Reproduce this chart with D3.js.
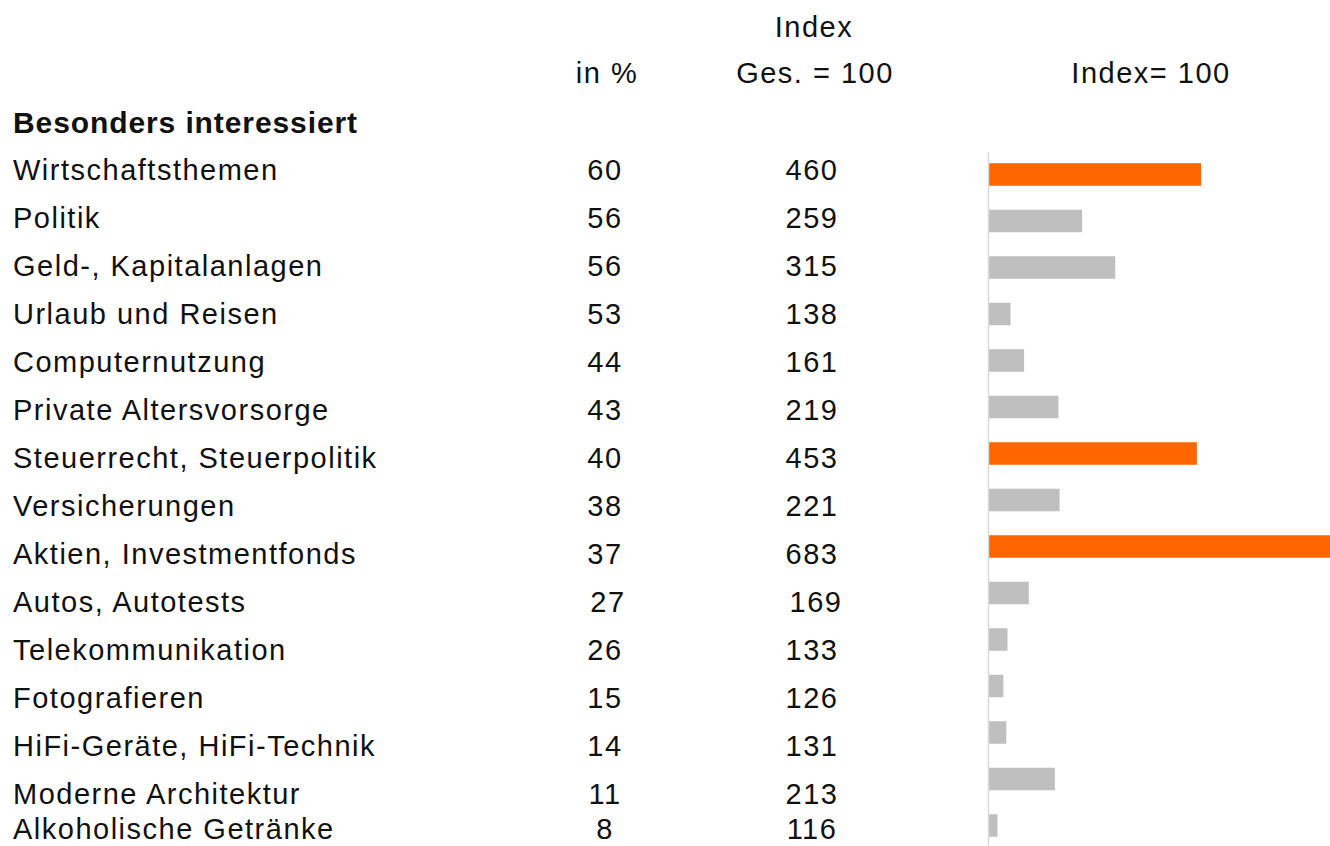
<!DOCTYPE html>
<html>
<head>
<meta charset="utf-8">
<script src="https://cdn.jsdelivr.net/npm/d3@7"></script>
<style>
  body { margin: 0; background: #fff; }
  svg { display: block; }
  text { font-family: "Liberation Sans", Arial, sans-serif; fill: #111; }
</style>
</head>
<body>
<svg id="chart" width="1330" height="846"></svg>
<script>
// data
var topics = ["Wirtschaftsthemen", "Politik", "Geld-, Kapitalanlagen", "Urlaub und Reisen",
    "Computernutzung", "Private Altersvorsorge", "Steuerrecht, Steuerpolitik", "Versicherungen",
    "Aktien, Investmentfonds", "Autos, Autotests", "Telekommunikation", "Fotografieren",
    "HiFi-Geräte, HiFi-Technik", "Moderne Architektur", "Alkoholische Getränke"];
var pct = [60, 56, 56, 53, 44, 43, 40, 38, 37, 27, 26, 15, 14, 11, 8];
var idx = [460, 259, 315, 138, 161, 219, 453, 221, 683, 169, 133, 126, 131, 213, 116];
var highlighted = ["Wirtschaftsthemen", "Steuerrecht, Steuerpolitik", "Aktien, Investmentfonds"];

var svg = d3.select("#chart");
var fs = 29;

// header
var head = svg.append("g").attr("font-size", fs).attr("letter-spacing", "1.5px")
    .attr("text-anchor", "middle");
head.append("text").attr("x", 814).attr("y", 37).text("Index");
head.append("text").attr("x", 607).attr("y", 83).text("in %");
head.append("text").attr("x", 815).attr("y", 83).text("Ges. = 100");
head.append("text").attr("x", 1151).attr("y", 83).text("Index= 100");

svg.append("text")
    .attr("x", 13).attr("y", 133)
    .attr("font-size", 30).attr("font-weight", "bold").attr("letter-spacing", "0.9px")
    .text("Besonders interessiert");

// text rows (last one sits a bit tighter at the bottom edge)
var rowY = d3.scalePoint().domain(topics.slice(0, 14)).range([179.5, 179.5 + 48 * 13]);
var textY = d => rowY(d) !== undefined ? rowY(d) : 839;

var rows = svg.append("g").attr("font-size", fs).attr("letter-spacing", "1.5px")
    .selectAll("g.row").data(topics).enter()
    .append("g").attr("class", "row");

rows.append("text").attr("x", 13).attr("y", d => textY(d)).text(d => d);
rows.append("text").attr("x", (d, i) => d === "Autos, Autotests" ? 608 : 605)
    .attr("y", d => textY(d)).attr("text-anchor", "middle")
    .text((d, i) => pct[i]);
rows.append("text").attr("x", (d, i) => d === "Autos, Autotests" ? 816 : 812)
    .attr("y", d => textY(d)).attr("text-anchor", "middle")
    .text((d, i) => idx[i]);

// bars, starting at index 100
var x = d3.scaleLinear().domain([100, 700]).range([988, 1343]);
var y = d3.scalePoint().domain(topics).range([174.5, 825.5]);
var barH = 22.5;

svg.append("g").selectAll("rect").data(topics).enter()
    .append("rect")
    .attr("x", x(100))
    .attr("y", d => y(d) - barH / 2)
    .attr("width", (d, i) => x(idx[i]) - x(100))
    .attr("height", barH)
    .attr("fill", d => highlighted.indexOf(d) >= 0 ? "#ff6600" : "#bfbfbf");

svg.append("line")
    .attr("x1", x(100) + 0.5).attr("x2", x(100) + 0.5)
    .attr("y1", 152).attr("y2", 846)
    .attr("stroke", "#d9d9d9").attr("stroke-width", 1.5);
</script>
</body>
</html>
